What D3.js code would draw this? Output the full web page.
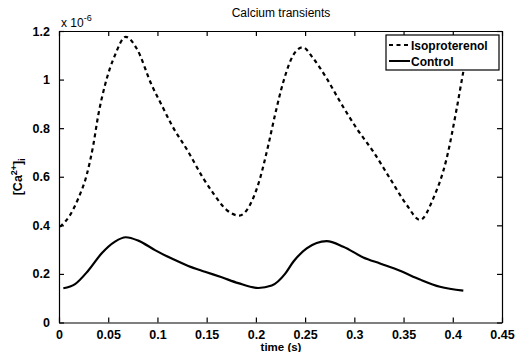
<!DOCTYPE html>
<html>
<head>
<meta charset="utf-8">
<script src="https://cdn.jsdelivr.net/npm/d3@7"></script>
<style>
  body { margin: 0; background: #fff; }
  svg { display: block; font-family: "Liberation Sans", Arial, sans-serif; }
</style>
</head>
<body>
<svg id="chart"></svg>
<script>
    // time axis (s) and calcium concentration (x 1e-6)
    const isoTime = [0.001, 0.0112, 0.0196, 0.0281, 0.0348, 0.0399, 0.0467, 0.0569, 0.0678, 0.0789,
      0.0942, 0.1043, 0.1145, 0.1313, 0.1466, 0.1567, 0.1704, 0.1832, 0.194, 0.2042,
      0.2126, 0.2194, 0.2279, 0.238, 0.2476, 0.2583, 0.2719, 0.2855, 0.3024, 0.3193,
      0.3362, 0.3532, 0.3667, 0.3802, 0.3938, 0.404, 0.4107, 0.414];
    const isoCa = [0.394, 0.442, 0.511, 0.607, 0.730, 0.854, 0.977, 1.101, 1.176, 1.128,
      0.977, 0.895, 0.813, 0.703, 0.593, 0.532, 0.463, 0.440, 0.484, 0.593,
      0.730, 0.854, 0.991, 1.101, 1.133, 1.087, 1.005, 0.909, 0.799, 0.703,
      0.593, 0.484, 0.422, 0.511, 0.676, 0.881, 1.032, 1.10];

    const ctlTime = [0.0044, 0.0163, 0.0298, 0.0434, 0.0569, 0.0678, 0.0806, 0.0975, 0.1145, 0.1313,
      0.1483, 0.1653, 0.1821, 0.2025, 0.2161, 0.2296, 0.238, 0.2516, 0.2719, 0.2888,
      0.3091, 0.3261, 0.3464, 0.3667, 0.387, 0.4107];
    const ctlCa = [0.141, 0.158, 0.214, 0.285, 0.333, 0.351, 0.337, 0.298, 0.263, 0.233,
      0.209, 0.186, 0.162, 0.142, 0.152, 0.200, 0.250, 0.305, 0.335, 0.312,
      0.268, 0.243, 0.213, 0.177, 0.147, 0.131];

    const xTicks = [0, 0.05, 0.1, 0.15, 0.2, 0.25, 0.3, 0.35, 0.4, 0.45];
    const yTicks = [0, 0.2, 0.4, 0.6, 0.8, 1, 1.2];
    const seriesNames = ["Isoproterenol", "Control"];

    const W = 519, H = 352;
    const margin = { top: 31, right: 17, bottom: 29.5, left: 59 },
      width = W - margin.left - margin.right,
      height = H - margin.top - margin.bottom;

    const svgRoot = d3.select("#chart").attr("width", W).attr("height", H);
    const svg = svgRoot.append("g")
      .attr("transform", `translate(${margin.left}, ${margin.top})`);

    const xScale = d3.scaleLinear().domain([0, 0.45]).range([0, width]);
    const yScale = d3.scaleLinear().domain([0, 1.2]).range([height, 0]);

    // box with inward ticks on all four sides
    const tickLen = 5;
    const axes = [
      { axis: d3.axisBottom(xScale), tf: `translate(0, ${height})`, labels: true },
      { axis: d3.axisTop(xScale), tf: "translate(0, 0)", labels: false },
      { axis: d3.axisLeft(yScale), tf: "translate(0, 0)", labels: true },
      { axis: d3.axisRight(yScale), tf: `translate(${width}, 0)`, labels: false }
    ];
    axes.forEach((a, i) => {
      const isX = i < 2;
      a.axis.tickValues(isX ? xTicks : yTicks)
        .tickSizeInner(-tickLen).tickSizeOuter(0)
        .tickPadding(isX ? 8 : 9)
        .tickFormat(a.labels ? d3.format("") : "");
      const g = svg.append("g").attr("transform", a.tf).call(a.axis);
      g.select(".domain").attr("stroke", "#000").attr("stroke-width", 1.2);
      g.selectAll(".tick line").attr("stroke", "#000").attr("stroke-width", 1.2);
      g.selectAll(".tick text")
        .attr("fill", "#000")
        .style("font-size", "12.5px")
        .style("font-weight", "bold");
    });

    // curves
    const line = d3.line()
      .x(d => xScale(d[0]))
      .y(d => yScale(d[1]))
      .curve(d3.curveMonotoneX);

    const isoData = isoTime.map((t, i) => [t, isoCa[i]]);
    const ctlData = ctlTime.map((t, i) => [t, ctlCa[i]]);

    svg.append("path").datum(isoData)
      .attr("d", line)
      .attr("fill", "none")
      .attr("stroke", "#000")
      .attr("stroke-width", 2.2)
      .attr("stroke-dasharray", "4,3.5");

    svg.append("path").datum(ctlData)
      .attr("d", line)
      .attr("fill", "none")
      .attr("stroke", "#000")
      .attr("stroke-width", 2.2);

    // title, labels, exponent
    svgRoot.append("text")
      .attr("x", 281).attr("y", 17)
      .attr("text-anchor", "middle")
      .style("font-size", "12px")
      .text("Calcium transients");

    const expo = svgRoot.append("text")
      .attr("x", 61).attr("y", 27)
      .style("font-size", "12px");
    expo.append("tspan").text("x 10");
    expo.append("tspan").attr("dy", -6).style("font-size", "9px").text("-6");

    svgRoot.append("text")
      .attr("x", 281).attr("y", 350.5)
      .attr("text-anchor", "middle")
      .style("font-size", "11.5px")
      .style("font-weight", "bold")
      .text("time (s)");

    const yl = svgRoot.append("text")
      .attr("transform", `translate(22, ${margin.top + height / 2}) rotate(-90)`)
      .attr("text-anchor", "middle")
      .style("font-size", "12.5px")
      .style("font-weight", "bold");
    yl.append("tspan").text("[Ca");
    yl.append("tspan").attr("dy", -5).style("font-size", "9px").text("2+");
    yl.append("tspan").attr("dy", 5).text("]");
    yl.append("tspan").attr("dy", 3).style("font-size", "9px").text("i");

    // legend
    const legend = svgRoot.append("g").attr("transform", "translate(386, 35)");
    legend.append("rect")
      .attr("width", 113).attr("height", 35)
      .attr("fill", "#fff").attr("stroke", "#000").attr("stroke-width", 1.2);
    seriesNames.forEach((name, i) => {
      const y = 10 + i * 16;
      legend.append("line")
        .attr("x1", 3).attr("x2", 24).attr("y1", y).attr("y2", y)
        .attr("stroke", "#000").attr("stroke-width", 2)
        .attr("stroke-dasharray", i === 0 ? "4,3.5" : null);
      legend.append("text")
        .attr("x", 25).attr("y", y + 4.5)
        .style("font-size", "12px")
        .style("font-weight", "bold")
        .text(name);
    });
</script>
</body>
</html>
